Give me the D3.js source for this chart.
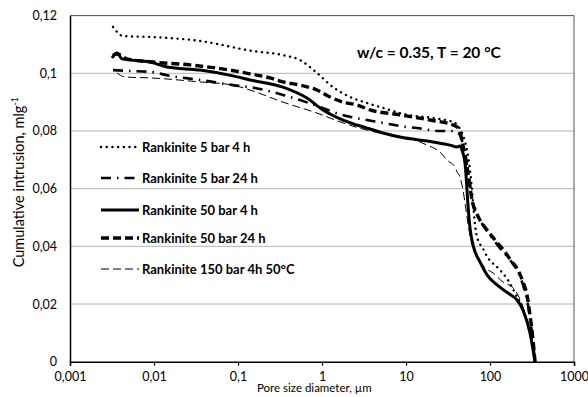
<html>
  <head>
    <script src="https://d3js.org/d3.v7.min.js"></script>
  </head>
  <body style="margin:0;background:#fff">
    <div id="chart"></div>
    <script>
      // data: [pore diameter (um), cumulative intrusion (ml/g)]
      const seriesNames = ["Rankinite 5 bar 4 h", "Rankinite 5 bar 24 h", "Rankinite 50 bar 4 h",
                           "Rankinite 50 bar 24 h", "Rankinite 150 bar 4h 50°C"];

      const rank5bar4h = [[0.00325,0.1161],[0.00373,0.1140],[0.00428,0.1129],[0.00897,0.1126],[0.0353,0.1112],
        [0.151,0.1077],[0.343,0.1063],[0.547,0.1046],[0.872,0.1001],[1.352,0.0952],[2.154,0.0918],[3.43,0.0897],
        [5.32,0.0880],[10.28,0.0856],[20.95,0.0845],[38.3,0.0828],[40.5,0.0821],[46.4,0.0793],[53.2,0.0734],
        [57.8,0.0665],[61.1,0.0595],[62.8,0.0550],[66.3,0.0474],[71.9,0.0422],[80.3,0.0398],[94.6,0.0360],
        [124.6,0.0325],[163.7,0.0283],[198.5,0.0238],[240.5,0.0190],[283.3,0.0127],[316.2,0.0076],[343.5,0]];

      const rank5bar24h = [[0.00325,0.1011],[0.00518,0.1008],[0.00897,0.1005],[0.0155,0.0991],[0.0353,0.0977],
        [0.0872,0.0959],[0.159,0.0949],[0.343,0.0925],[0.547,0.0907],[0.872,0.0887],[1.352,0.0866],[2.154,0.0849],
        [3.43,0.0838],[5.32,0.0828],[8.48,0.0817],[13.53,0.0810],[25.4,0.0800],[35.3,0.0800],[41.6,0.0793],
        [45.2,0.0779],[49.0,0.0734],[53.2,0.0682],[57.8,0.0613],[62.8,0.0543],[70.0,0.0509],[82.6,0.0474],
        [100,0.0439],[131.5,0.0394],[173,0.0353],[215.4,0.0311],[247.2,0.0266],[275.7,0.0214],[307.4,0.0127],[343.5,0]];

      const rank50bar4h = [[0.00316,0.1053],[0.00363,0.1070],[0.00416,0.1050],[0.00897,0.1039],[0.01428,0.1022],
        [0.0353,0.1011],[0.0872,0.0991],[0.139,0.0977],[0.343,0.0952],[0.662,0.0914],[1.028,0.0873],[1.778,0.0838],
        [3.43,0.0810],[5.32,0.0793],[8.48,0.0779],[20.95,0.0762],[33.4,0.0751],[40.5,0.0744],[43.9,0.0748],
        [46.4,0.0734],[50.4,0.0689],[51.8,0.0648],[54.7,0.0543],[57.8,0.0464],[62.8,0.0405],[76.0,0.0346],
        [92.1,0.0301],[121.2,0.0266],[163.7,0.0238],[209.7,0.0214],[247.2,0.0179],[299.2,0.0100],[343.5,0]];

      const rank50bar24h = [[0.00325,0.1063],[0.00363,0.1067],[0.00477,0.1050],[0.00973,0.1039],[0.02683,0.1029],
        [0.0803,0.1011],[0.139,0.0998],[0.240,0.0984],[0.343,0.0970],[0.547,0.0959],[0.872,0.0942],[1.245,0.0918],
        [1.778,0.0900],[2.61,0.0890],[3.73,0.0873],[8.48,0.0856],[19.31,0.0838],[33.4,0.0824],[40.5,0.0814],
        [43.9,0.0796],[47.7,0.0751],[51.8,0.0699],[56.2,0.0630],[61.1,0.0561],[68.1,0.0519],[76.0,0.0491],
        [92.1,0.0457],[114.8,0.0422],[151,0.0380],[182.8,0.0346],[215.4,0.0318],[247.2,0.0276],[275.7,0.0231],
        [299.2,0.0162],[325,0.0076],[343.5,0]];

      const rank150bar = [[0.00363,0.1001],[0.00452,0.0987],[0.00897,0.0984],[0.0353,0.0970],[0.0872,0.0959],
        [0.139,0.0942],[0.343,0.0900],[0.872,0.0862],[1.778,0.0828],[3.43,0.0803],[6.45,0.0786],[11.16,0.0775],
        [17.78,0.0751],[25.4,0.0727],[30.8,0.0699],[38.3,0.0675],[40.5,0.0658],[43.9,0.0641],[47.7,0.0595],
        [51.8,0.0526],[56.2,0.0457],[62.8,0.0394],[71.9,0.0360],[87.2,0.0325],[108.6,0.0308],[142.9,0.0276],
        [188,0.0256],[215.4,0.0231],[254,0.0179],[299.2,0.0100],[343.5,0]];

      const xTicks = [0.001, 0.01, 0.1, 1, 10, 100, 1000];
      const xTickLabels = ["0,001", "0,01", "0,1", "1", "10", "100", "1000"];
      const yTicks = [0, 0.02, 0.04, 0.06, 0.08, 0.1, 0.12];
      const yTickLabels = ["0", "0,02", "0,04", "0,06", "0,08", "0,1", "0,12"];

      const allSeries = [rank5bar4h, rank5bar24h, rank50bar4h, rank50bar24h, rank150bar];

      // line looks, same order as seriesNames
      const looks = [
        {w: 2.4, dash: "0.1,5.6", cap: "round"},
        {w: 2.6, dash: "10,6,1.5,6", cap: "butt"},
        {w: 3, dash: null, cap: "butt"},
        {w: 3.4, dash: "8,4", cap: "butt"},
        {w: 1, dash: "8,4", cap: "butt"}
      ];

      const width = 588, height = 397;
      const margin = {top: 15.6, right: 14, bottom: 35.3, left: 70};
      const font = "Lato, 'Open Sans', sans-serif";

      const svg = d3.create("svg")
        .attr("width", width)
        .attr("height", height)
        .style("font-family", font);

      const xScale = d3.scaleLog()
        .domain([0.001, 1000])
        .range([margin.left, width - margin.right]);

      const yScale = d3.scaleLinear()
        .domain([0, 0.12])
        .range([height - margin.bottom, margin.top]);

      // gridlines
      svg.append("g")
        .selectAll("line")
        .data(yTicks.slice(1))
        .join("line")
          .attr("x1", margin.left).attr("x2", width - margin.right)
          .attr("y1", d => yScale(d)).attr("y2", d => yScale(d))
          .attr("stroke", "#b4b4b4").attr("stroke-width", 1);

      // top / right border of the plot
      svg.append("path")
        .attr("d", `M${margin.left},${margin.top}H${width - margin.right}V${height - margin.bottom}`)
        .attr("fill", "none").attr("stroke", "#555").attr("stroke-width", 1);

      // x axis
      const xAxis = svg.append("g")
        .attr("transform", `translate(0, ${height - margin.bottom})`)
        .call(d3.axisBottom(xScale).tickValues(xTicks)
          .tickFormat((d, i) => xTickLabels[i]).tickSize(4).tickPadding(6));
      xAxis.select(".domain").attr("stroke", "#000").attr("stroke-width", 1.5);
      xAxis.selectAll(".tick line").attr("stroke", "#000").attr("stroke-width", 1.2);
      xAxis.selectAll("text").attr("font-size", 12.5).attr("font-family", font).attr("fill", "#000");

      // y axis
      const yAxis = svg.append("g")
        .attr("transform", `translate(${margin.left}, 0)`)
        .call(d3.axisLeft(yScale).tickValues(yTicks)
          .tickFormat((d, i) => yTickLabels[i]).tickSize(0).tickPadding(13));
      yAxis.select(".domain").attr("stroke", "#000").attr("stroke-width", 1.5);
      yAxis.selectAll("text").attr("font-size", 12.5).attr("font-family", font).attr("fill", "#000");

      // curves
      const line = d3.line()
        .x(d => xScale(d[0]))
        .y(d => yScale(d[1]))
        .curve(d3.curveMonotoneX);

      svg.append("g")
        .selectAll("path")
        .data(allSeries)
        .join("path")
          .attr("d", line)
          .attr("fill", "none")
          .attr("stroke", "#000")
          .attr("stroke-width", (d, i) => looks[i].w)
          .attr("stroke-dasharray", (d, i) => looks[i].dash)
          .attr("stroke-linecap", (d, i) => looks[i].cap);

      // legend
      const legendY = [147, 178, 210, 238, 269];
      const legend = svg.append("g")
        .selectAll("g")
        .data(seriesNames)
        .join("g")
          .attr("transform", (d, i) => `translate(101, ${legendY[i]})`);
      legend.append("line")
        .attr("x1", 0).attr("x2", 38)
        .attr("stroke", "#000")
        .attr("stroke-width", (d, i) => looks[i].w)
        .attr("stroke-dasharray", (d, i) => looks[i].dash)
        .attr("stroke-linecap", (d, i) => looks[i].cap);
      legend.append("text")
        .attr("x", 41)
        .attr("dy", "0.35em")
        .attr("font-size", 13)
        .attr("font-weight", "bold")
        .text(d => d);

      // title in the plot
      svg.append("text")
        .attr("x", 357).attr("y", 58)
        .attr("font-size", 15.5)
        .attr("font-weight", "bold")
        .text("w/c = 0.35, T = 20 °C");

      // axis titles
      svg.append("text")
        .attr("x", 257).attr("y", 392)
        .attr("font-size", 11.5)
        .text("Pore size diameter, µm");

      const yTitle = svg.append("text")
        .attr("transform", "translate(24, 97) rotate(-90)")
        .attr("text-anchor", "end")
        .attr("font-size", 14.5);
      yTitle.append("tspan").text("Cumulative intrusion, mlg");
      yTitle.append("tspan").attr("dy", -6).attr("font-size", 9).text("-1");

      document.getElementById("chart").appendChild(svg.node());
    </script>
  </body>
</html>
